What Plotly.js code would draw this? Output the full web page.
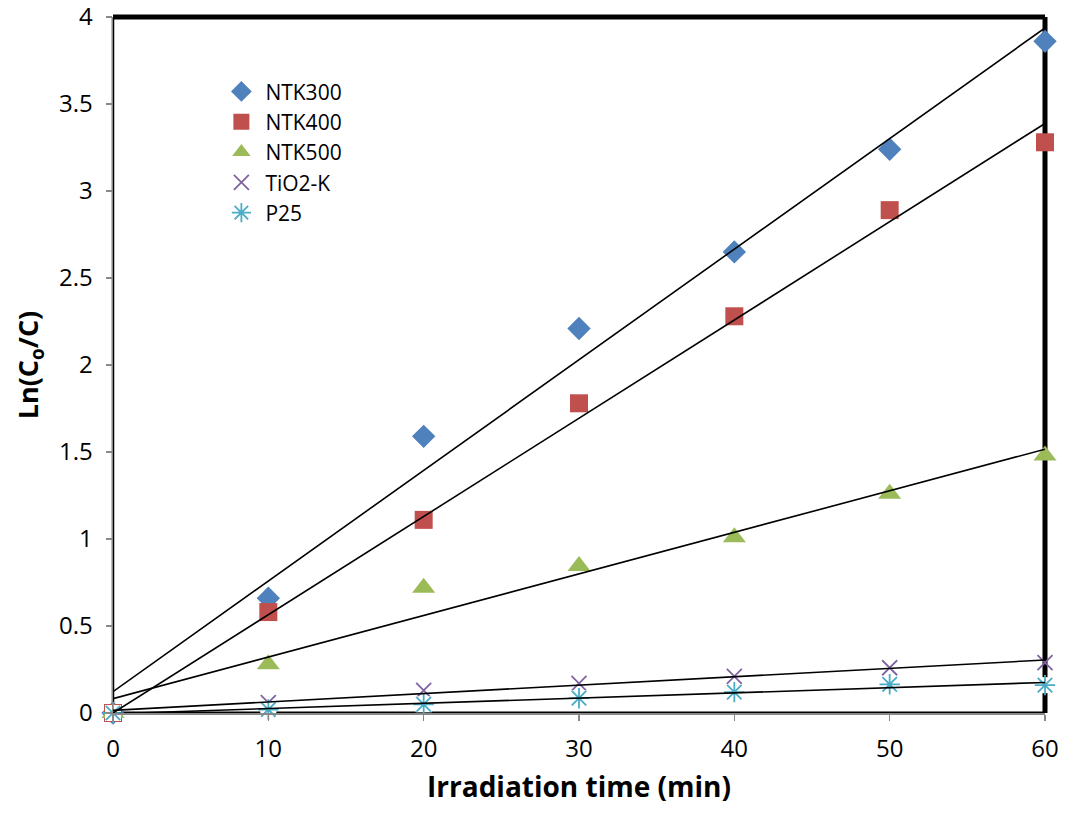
<!DOCTYPE html>
<html>
<head>
<meta charset="utf-8">
<script src="https://cdn.plot.ly/plotly-3.0.1.min.js"></script>
<style>
  html, body { margin: 0; padding: 0; background: #fff; }
  #chart { width: 1067px; height: 825px; }
</style>
</head>
<body>
<div id="chart"></div>
<script>
// Irradiation time (min)
const times = [0, 10, 20, 30, 40, 50, 60];

// Ln(Co/C) for each catalyst
const ntk300 = [0, 0.66, 1.59, 2.21, 2.65, 3.24, 3.86];
const ntk400 = [0, 0.58, 1.11, 1.78, 2.28, 2.89, 3.28];
const ntk500 = [0, 0.28, 0.72, 0.845, 1.01, 1.26, 1.48];
const tio2k  = [0, 0.06, 0.13, 0.17, 0.21, 0.26, 0.29];
const p25    = [0, 0.02, 0.05, 0.085, 0.12, 0.165, 0.16];

const seriesNames = ['NTK300', 'NTK400', 'NTK500', 'TiO2-K', 'P25'];
const seriesValues = [ntk300, ntk400, ntk500, tio2k, p25];
// Linear trendlines: NTK400 is fitted with the intercept fixed at zero
const zeroIntercept = [false, true, false, false, false];

const yTickVals = [0, 0.5, 1, 1.5, 2, 2.5, 3, 3.5, 4];
const yTickText = ['0', '0.5', '1', '1.5', '2', '2.5', '3', '3.5', '4'];
const xTickVals = [0, 10, 20, 30, 40, 50, 60];

const colors = ['#4F81BD', '#C0504D', '#9BBB59', '#8064A2', '#4BACC6'];
const symbols = ['diamond', 'square', 'triangle-up', 'x-thin-open', 'asterisk-open'];
const sizes = [18, 18, 20, 15, 17];

function fit(x, y, origin) {
  const n = x.length;
  if (origin) {
    let sxy = 0, sxx = 0;
    for (let i = 0; i < n; i++) { sxy += x[i] * y[i]; sxx += x[i] * x[i]; }
    return { m: sxy / sxx, b: 0 };
  }
  const mx = x.reduce((a, v) => a + v, 0) / n;
  const my = y.reduce((a, v) => a + v, 0) / n;
  let sxy = 0, sxx = 0;
  for (let i = 0; i < n; i++) { sxy += (x[i] - mx) * (y[i] - my); sxx += (x[i] - mx) ** 2; }
  const m = sxy / sxx;
  return { m: m, b: my - m * mx };
}

const traces = [];
seriesValues.forEach((ys, i) => {
  const open = symbols[i].indexOf('open') >= 0;
  if (seriesNames[i] === 'P25') {
    // star markers carry a white square fill behind the strokes
    traces.push({
      x: times, y: ys, mode: 'markers', showlegend: false, hoverinfo: 'skip',
      cliponaxis: false,
      marker: { symbol: 'square', size: 16, color: '#fff', line: { width: 0 } }
    });
  }
  traces.push({
    x: times,
    y: ys,
    name: seriesNames[i],
    mode: 'markers',
    cliponaxis: false,
    marker: {
      symbol: symbols[i],
      size: sizes[i],
      color: colors[i],
      line: open ? { color: colors[i], width: 1.8 } : { width: 0 }
    }
  });
});
// trendlines drawn over the markers
seriesValues.forEach((ys, i) => {
  const f = fit(times, ys, zeroIntercept[i]);
  const x0 = times[0], x1 = times[times.length - 1];
  traces.push({
    x: [x0, x1],
    y: [f.m * x0 + f.b, f.m * x1 + f.b],
    mode: 'lines',
    line: { color: '#000', width: 1.6 },
    showlegend: false,
    hoverinfo: 'skip',
    cliponaxis: false
  });
});

const font = "'Open Sans', 'Noto Sans', sans-serif";

const layout = {
  width: 1067,
  height: 825,
  margin: { l: 113, r: 22, t: 17, b: 112 },
  paper_bgcolor: '#fff',
  plot_bgcolor: '#fff',
  font: { family: font, color: '#000', size: 24 },
  showlegend: true,
  legend: {
    x: 0.112, y: 0.922, xanchor: 'left', yanchor: 'top',
    bgcolor: 'rgba(0,0,0,0)',
    font: { size: 21, family: font, color: '#000' },
    itemwidth: 38,
    tracegroupgap: 0
  },
  xaxis: {
    range: [0, 60],
    tickvals: xTickVals,
    ticks: 'outside', ticklen: 6, tickwidth: 1.5, tickcolor: '#888',
    showline: true, linecolor: '#888', linewidth: 1.5,
    showgrid: false, zeroline: false,
    ticklabelstandoff: 8,
    ticklabeloverflow: 'allow',
    tickfont: { size: 24 },
    title: { text: 'Irradiation time (min)', font: { size: 28, weight: 'bold' }, standoff: 14 }
  },
  yaxis: {
    range: [0, 4],
    tickvals: yTickVals,
    ticktext: yTickText,
    ticks: 'outside', ticklen: 6, tickwidth: 1.5, tickcolor: '#888',
    showline: true, linecolor: '#888', linewidth: 1.5,
    showgrid: false, zeroline: false,
    ticklabelstandoff: 8,
    ticklabeloverflow: 'allow',
    tickfont: { size: 24 },
    title: { text: 'Ln(C<sub>o</sub>/C)', font: { size: 27, weight: 'bold' }, standoff: 12 }
  },
  shapes: [
    // plot-area frame: heavy top and right edges, lighter left and bottom
    { type: 'line', xref: 'paper', yref: 'paper', x0: 0, x1: 1, y0: 1, y1: 1,
      line: { color: '#000', width: 5 }, layer: 'below' },
    { type: 'line', xref: 'paper', yref: 'paper', x0: 1, x1: 1, y0: 0, y1: 1,
      line: { color: '#000', width: 5 }, layer: 'below' },
    { type: 'line', xref: 'paper', yref: 'paper', x0: 0, x1: 1, y0: 0, y1: 0,
      line: { color: '#000', width: 3 }, layer: 'below' },
    { type: 'line', xref: 'paper', yref: 'paper', x0: 0, x1: 0, y0: 0, y1: 1,
      line: { color: '#000', width: 2.5 }, layer: 'below' }
  ]
};

Plotly.newPlot('chart', traces, layout, { displayModeBar: false, staticPlot: true });
</script>
</body>
</html>
